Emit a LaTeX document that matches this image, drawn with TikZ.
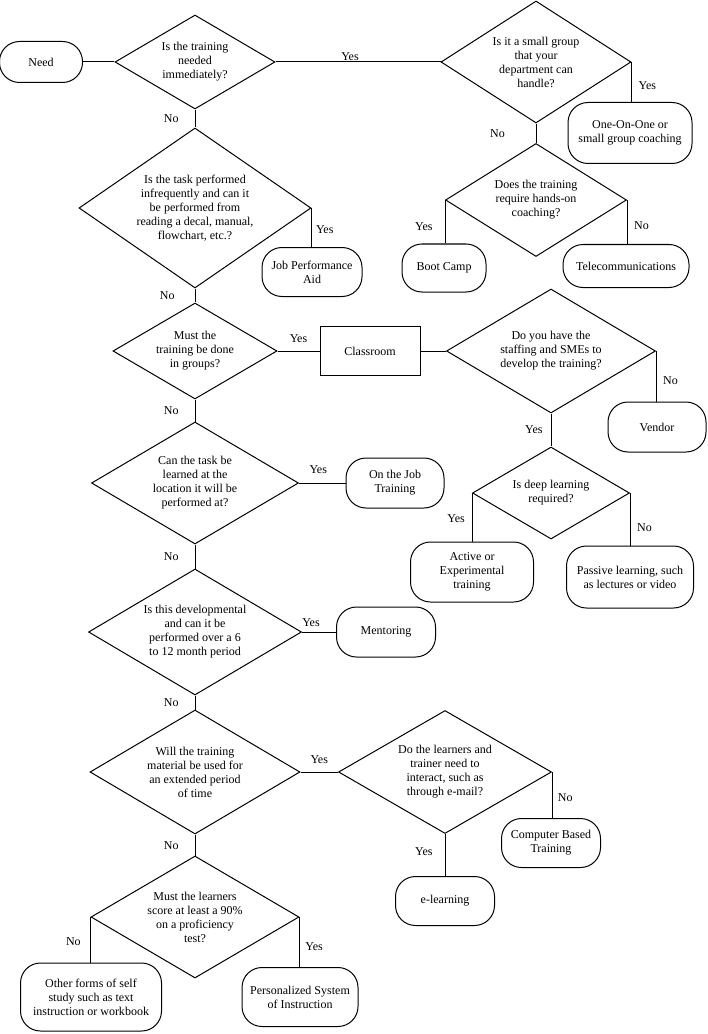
\documentclass[tikz,border=0pt]{standalone}
\usepackage{fontspec}
\setmainfont{Liberation Serif}
\usetikzlibrary{shapes.geometric}

\begin{document}
\begin{tikzpicture}[x=0.75pt, y=-0.75pt, line width=0.75pt,
	font=\fontsize{9}{10.5}\selectfont,
	decision/.style={draw, diamond, shape aspect=1.6, inner sep=0pt, align=center},
	outcome/.style={draw, rectangle, rounded corners=15pt, inner sep=0pt, align=center},
	lbl/.style={inner sep=1pt}]
		\useasboundingbox (0,0) rectangle (707,1034);

		% left column of questions
		\node [outcome, minimum width=62.25pt, minimum height=30.75pt] (need) at (41,62) {Need};
		\node [decision, minimum width=120pt, minimum height=70.5pt] (quick) at (195,62) {Is the training\\needed\\immediately?};
		\node [decision, minimum width=174pt, minimum height=120pt] (task) at (195,208) {Is the task performed\\infrequently and can it\\be performed from\\reading a decal, manual,\\flowchart, etc.?};
		\node [decision, minimum width=123pt, minimum height=72pt] (groups) at (195,351) {Must the\\training be done\\in groups?};
		\node [decision, minimum width=155.25pt, minimum height=91.5pt] (onsite) at (195,483) {Can the task be\\learned at the\\location it will be\\performed at?};
		\node [decision, minimum width=159.75pt, minimum height=94.5pt] (develop) at (195,632) {Is this developmental\\and can it be\\performed over a 6\\to 12 month period};
		\node [decision, minimum width=157.5pt, minimum height=93pt] (extended) at (195,772) {Will the training\\material be used for\\an extended period\\of time};
		\node [decision, minimum width=156pt, minimum height=91.5pt] (score) at (195,917) {Must the learners\\score at least a 90\%\\on a proficiency\\test?};

		% right side
		\node [decision, minimum width=142.5pt, minimum height=91.5pt] (small) at (536,62) {Is it a small group\\that your\\department can\\handle?};
		\node [outcome, minimum width=93pt, minimum height=45.75pt] (coach) at (630,133) {One-On-One or\\small group coaching};
		\node [decision, minimum width=135.75pt, minimum height=84.75pt] (hands) at (536,200) {Does the training\\require hands-on\\coaching?};
		\node [outcome, minimum width=63pt, minimum height=36pt] (boot) at (444,268) {Boot Camp};
		\node [outcome, minimum width=94.5pt, minimum height=32.25pt] (tele) at (626,266) {Telecommunications};
		\node [outcome, minimum width=75pt, minimum height=36.75pt] (aid) at (312,272) {Job Performance\\Aid};
		\node [draw, rectangle, inner sep=0pt, minimum width=75pt, minimum height=36.75pt] (class) at (370,351) {Classroom};
		\node [decision, minimum width=156.75pt, minimum height=93pt] (staff) at (551,351) {Do you have the\\staffing and SMEs to\\develop the training?};
		\node [outcome, minimum width=73.5pt, minimum height=37.5pt] (vendor) at (657,427) {Vendor};
		\node [outcome, minimum width=73.5pt, minimum height=37.5pt] (ojt) at (395,483) {On the Job\\Training};
		\node [decision, minimum width=117.75pt, minimum height=69pt] (deep) at (551,493) {Is deep learning\\required?};
		\node [outcome, minimum width=92.25pt, minimum height=45pt] (active) at (472,572) {Active or\\Experimental\\training};
		\node [outcome, minimum width=95.25pt, minimum height=46.5pt] (passive) at (630,577) {Passive learning, such\\as lectures or video};
		\node [outcome, minimum width=74.25pt, minimum height=37.5pt] (mentor) at (386,632) {Mentoring};
		\node [decision, minimum width=159.75pt, minimum height=92.25pt] (interact) at (445,772) {Do the learners and\\trainer need to\\interact, such as\\through e-mail?};
		\node [outcome, minimum width=74.25pt, minimum height=36.75pt] (cbt) at (551,843) {Computer Based\\Training};
		\node [outcome, minimum width=74.25pt, minimum height=36.75pt] (elearn) at (445,901) {e-learning};
		\node [outcome, minimum width=87pt, minimum height=44.25pt] (psi) at (300,997) {Personalized System\\of Instruction};
		\node [outcome, minimum width=105.75pt, minimum height=51pt] (other) at (91,997) {Other forms of self\\study such as text\\instruction or workbook};

		% connectors
		\draw (need) -- (quick);
		\draw (quick) -- node [lbl, above, xshift=-6pt] {Yes} (small);
		\draw (quick) -- node [lbl, left=11pt] {No} (task);
		\draw (small.east) -- node [lbl, pos=.6, right=4pt] {Yes} (small.east |- coach.north);
		\draw (small) -- node [lbl, left=22pt] {No} (hands);
		\draw (hands.west) -- node [lbl, pos=.62, left=8pt] {Yes} (hands.west |- boot.north);
		\draw (hands.east) -- node [lbl, pos=.58, right=4pt] {No} (hands.east |- tele.north);
		\draw (task.east) -- node [lbl, pos=.55, right=2pt] {Yes} (task.east |- aid.north);
		\draw (task) -- node [lbl, left=14pt] {No} (groups);
		\draw (groups) -- node [lbl, above=5pt] {Yes} (class);
		\draw (class) -- (staff);
		\draw (staff.east) -- node [lbl, pos=.59, right=4pt] {No} (staff.east |- vendor.north);
		\draw (staff) -- node [lbl, left=5pt] {Yes} (deep);
		\draw (groups) -- node [lbl, left=11pt] {No} (onsite);
		\draw (onsite) -- node [lbl, above=6pt, xshift=-3pt] {Yes} (ojt);
		\draw (deep.west) -- node [lbl, pos=.53, left=4pt] {Yes} (deep.west |- active.north);
		\draw (deep.east) -- node [lbl, pos=.66, right=4pt] {No} (deep.east |- passive.north);
		\draw (onsite) -- node [lbl, left=11pt] {No} (develop);
		\draw (develop) -- node [lbl, above=3pt, xshift=-6pt] {Yes} (mentor);
		\draw (develop) -- node [lbl, left=11pt] {No} (extended);
		\draw (extended) -- node [lbl, above=5pt] {Yes} (interact);
		\draw (interact.east) -- node [lbl, pos=.55, right=3pt] {No} (interact.east |- cbt.north);
		\draw (interact) -- node [lbl, pos=.42, left=8pt] {Yes} (elearn);
		\draw (extended) -- node [lbl, pos=.55, left=11pt] {No} (score);
		\draw (score.east) -- node [lbl, pos=.6, right=3pt] {Yes} (score.east |- psi.north);
		\draw (score.west) -- node [lbl, pos=.54, left=6pt] {No} (score.west |- other.north);
	\end{tikzpicture}
\end{document}
